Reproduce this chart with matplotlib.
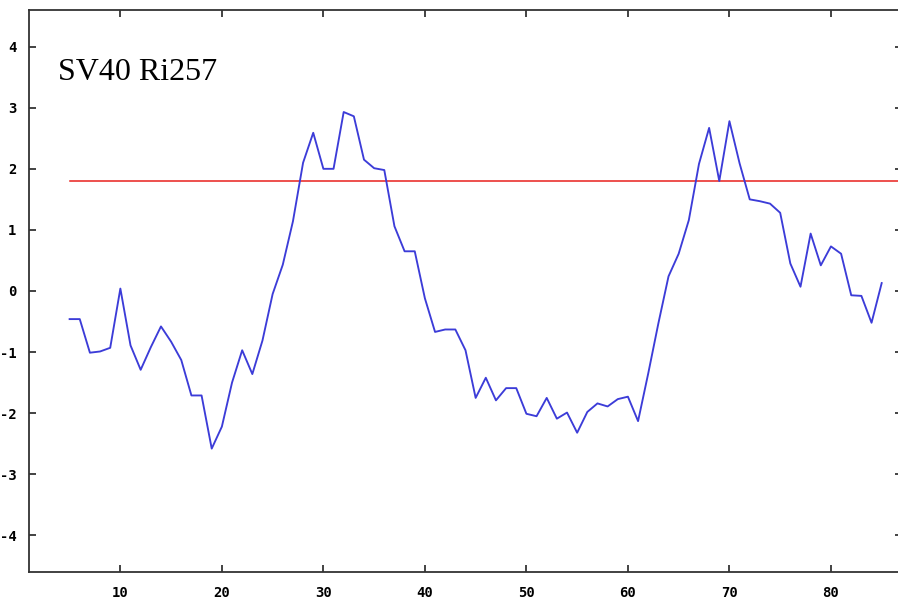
import matplotlib
matplotlib.use("Agg")
import matplotlib.pyplot as plt
import numpy as np

plt.rcParams["axes.unicode_minus"] = False

# hydrophobicity profile, window positions 5..85
positions = list(range(5, 86))
scores = [
    -0.46, -0.46, -1.01, -0.99, -0.93, 0.04, -0.89, -1.29, -0.92, -0.58,   # 5-14
    -0.83, -1.13, -1.71, -1.71, -2.58, -2.22, -1.50, -0.97, -1.36, -0.81,  # 15-24
    -0.05, 0.43, 1.14, 2.10, 2.59, 2.00, 2.00, 2.93, 2.86, 2.15,           # 25-34
    2.01, 1.98, 1.06, 0.65, 0.65, -0.12, -0.67, -0.63, -0.63, -0.97,       # 35-44
    -1.75, -1.42, -1.79, -1.59, -1.59, -2.01, -2.05, -1.75, -2.09, -1.99,  # 45-54
    -2.32, -1.98, -1.84, -1.89, -1.77, -1.73, -2.13, -1.35, -0.53, 0.24,   # 55-64
    0.61, 1.16, 2.08, 2.67, 1.80, 2.78, 2.09, 1.50, 1.47, 1.43,            # 65-74
    1.28, 0.45, 0.07, 0.94, 0.42, 0.73, 0.61, -0.07, -0.08, -0.52,         # 75-84
    0.13,                                                                  # 85
]
threshold = 1.8
label = "SV40 Ri257"

x_ticks = [10, 20, 30, 40, 50, 60, 70, 80]
y_ticks = [-4, -3, -2, -1, 0, 1, 2, 3, 4]

W, H = 898, 607
XMIN, XMAX = 1, 87
fig = plt.figure(figsize=(W / 100, H / 100), dpi=100)
ax = fig.add_axes([29 / W, (H - 572) / H, (902 - 29) / W, (572 - 10) / H])

ax.plot(positions, scores, color="#3c3cd8", linewidth=1.35, zorder=3)
ax.axhline(threshold, xmin=(5 - XMIN) / (XMAX - XMIN), xmax=1, color="#e8201c",
           linewidth=1.1, zorder=2)

ax.set_xlim(XMIN, XMAX)
ax.set_ylim(-4.6, 4.6)
ax.set_xticks(x_ticks)
ax.set_yticks(y_ticks)

ax.tick_params(direction="in", length=5, width=1.2, top=True, right=True,
               colors="#222222")
ax.tick_params(axis="x", pad=10)
ax.tick_params(axis="y", pad=9)
for lab in ax.get_xticklabels() + ax.get_yticklabels():
    lab.set_fontfamily("DejaVu Sans Mono")
    lab.set_fontweight("bold")
    lab.set_fontsize(10)
    lab.set_color("black")

for side in ["left", "bottom", "top"]:
    ax.spines[side].set_linewidth(1.3)
    ax.spines[side].set_color("#333333")
# right border runs off the edge of the canvas
ax.spines["right"].set_visible(False)

ax.text(3.86, 3.45, label, family="Liberation Serif", fontsize=23,
        va="baseline", ha="left", color="black")

fig.savefig("out.png", dpi=100)
